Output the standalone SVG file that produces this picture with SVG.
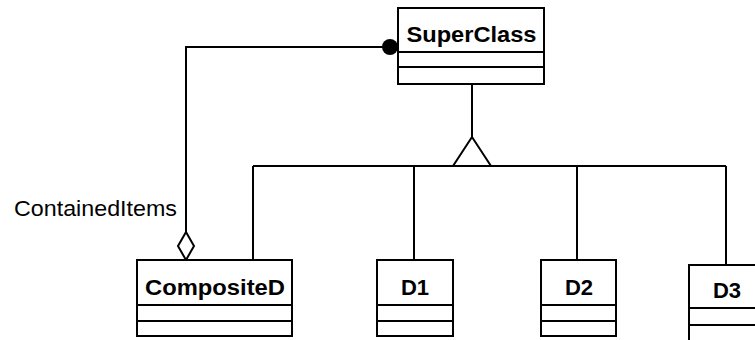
<svg xmlns="http://www.w3.org/2000/svg" width="755" height="340" viewBox="0 0 755 340">
<style>
.box{fill:#fff;stroke:#000;stroke-width:2}
.ln{fill:none;stroke:#000;stroke-width:2}
.cls{font-family:"Liberation Sans",Arial,sans-serif;font-weight:bold;font-size:22px;fill:#000;text-anchor:middle}
.lbl{font-family:"Liberation Sans",Arial,sans-serif;font-size:22px;fill:#000}
</style>
<rect width="755" height="340" fill="#fff"/>
<g id="connectors">
<path class="ln" d="M472,84 V137"/>
<polygon class="ln" points="472,137 453,166 491,166" fill="#fff"/>
<path class="ln" d="M253,166 H726 M253,166 V260 M414,166 V260 M577,166 V260 M726,166 V265"/>
<path class="ln" d="M390,47 H186 V232"/>
<circle cx="390" cy="47" r="8" fill="#000"/>
<polygon class="ln" points="186,232 194,246 186,260 178,246" fill="#fff"/>
<text class="lbl" x="14" y="216" textLength="163" lengthAdjust="spacingAndGlyphs">ContainedItems</text>
</g>
<g id="SuperClass">
<rect class="box" x="398" y="8" width="146" height="76"/>
<path class="ln" d="M398,52 H544 M398,67 H544"/>
<text class="cls" x="471.5" y="42" textLength="130" lengthAdjust="spacingAndGlyphs">SuperClass</text>
</g>
<g id="CompositeD">
<rect class="box" x="137" y="260" width="155" height="76"/>
<path class="ln" d="M137,305 H292 M137,321 H292"/>
<text class="cls" x="215" y="295" textLength="140" lengthAdjust="spacingAndGlyphs">CompositeD</text>
</g>
<g id="D1">
<rect class="box" x="377" y="260" width="76" height="76"/>
<path class="ln" d="M377,305 H453 M377,321 H453"/>
<text class="cls" x="415" y="295">D1</text>
</g>
<g id="D2">
<rect class="box" x="541" y="260" width="75" height="76"/>
<path class="ln" d="M541,305 H616 M541,321 H616"/>
<text class="cls" x="579" y="295">D2</text>
</g>
<g id="D3">
<rect class="box" x="689" y="265" width="76" height="80"/>
<path class="ln" d="M689,308 H765 M689,325 H765"/>
<text class="cls" x="727" y="298">D3</text>
</g>
</svg>
